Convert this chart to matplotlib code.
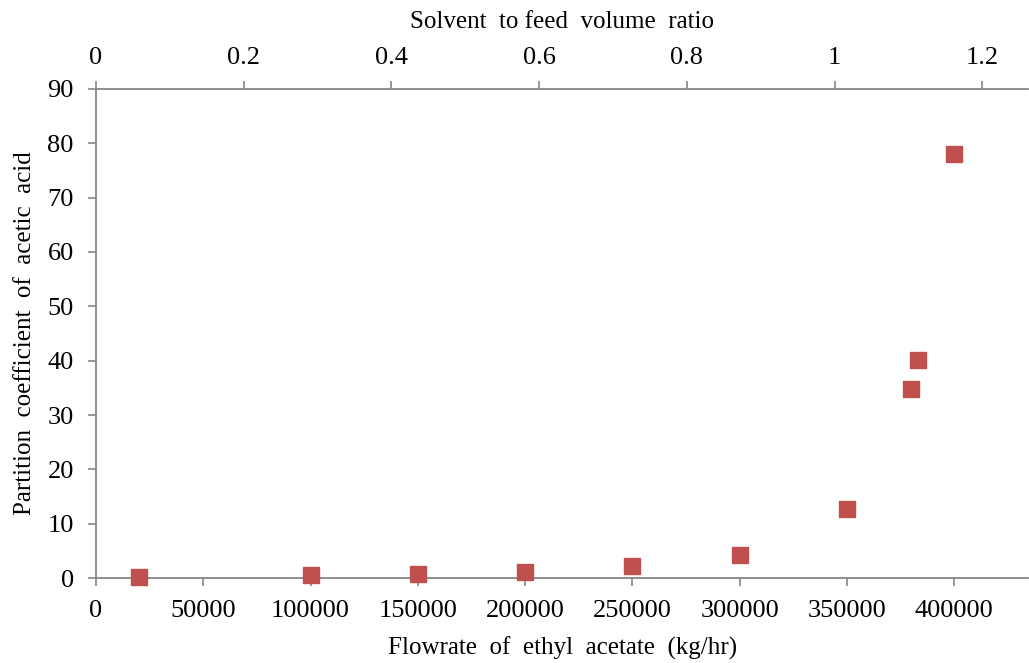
import matplotlib.pyplot as plt

# flowrate of ethyl acetate (kg/hr) vs partition coefficient of acetic acid
flowrate = [20000, 100000, 150000, 200000, 250000, 300000, 350000, 380000, 383000, 400000]
partition = [0.3, 0.5, 0.8, 1.2, 2.2, 4.3, 12.8, 34.8, 40.2, 78.0]

ytick_vals = [0, 10, 20, 30, 40, 50, 60, 70, 80, 90]
xtick_vals = [0, 50000, 100000, 150000, 200000, 250000, 300000, 350000, 400000]
top_ticks = [0, 0.2, 0.4, 0.6, 0.8, 1.0, 1.2]
top_labels = ["0", "0.2", "0.4", "0.6", "0.8", "1", "1.2"]

plt.rcParams['font.family'] = ['Liberation Serif', 'DejaVu Serif']
grey = '#868686'

fig = plt.figure(figsize=(10.29, 6.63), dpi=100)
ax = fig.add_axes([0.0933, 0.128, 0.906, 0.738])

ax.plot(flowrate, partition, 's', color='#C0504D', markersize=12,
        markeredgecolor='#C0504D', zorder=3, clip_on=False)

ax.set_xlim(0, 434500)
ax.set_ylim(0, 90)
ax.set_xticks(xtick_vals)
ax.set_xticklabels([str(v) for v in xtick_vals])
ax.set_yticks(ytick_vals)
ax.tick_params(axis='both', labelsize=19, color=grey, length=6, width=1.2, direction='out')
ax.tick_params(axis='x', pad=10)
ax.tick_params(axis='y', pad=10)
ax.spines['right'].set_visible(False)
ax.spines['top'].set_visible(False)
for s in ['left', 'bottom']:
    ax.spines[s].set_color(grey)
    ax.spines[s].set_linewidth(1.3)
ax.set_xlabel("Flowrate  of  ethyl  acetate  (kg/hr)", fontsize=18, labelpad=10)
ax.set_ylabel("Partition  coefficient  of  acetic  acid", fontsize=18, labelpad=8)

# secondary axis on top: solvent to feed volume ratio
ax2 = ax.twiny()
ax2.set_xlim(0, 1.2 * 932 / 886)
ax2.set_xticks(top_ticks)
ax2.set_xticklabels(top_labels)
ax2.tick_params(axis='x', labelsize=19, color=grey, length=6, width=1.2, direction='out', pad=8)
for s in ['left', 'right', 'bottom']:
    ax2.spines[s].set_visible(False)
ax2.spines['top'].set_color(grey)
ax2.spines['top'].set_linewidth(1.3)
ax2.set_xlabel("Solvent  to feed  volume  ratio", fontsize=18, labelpad=14)

fig.savefig("out.png", dpi=100)
